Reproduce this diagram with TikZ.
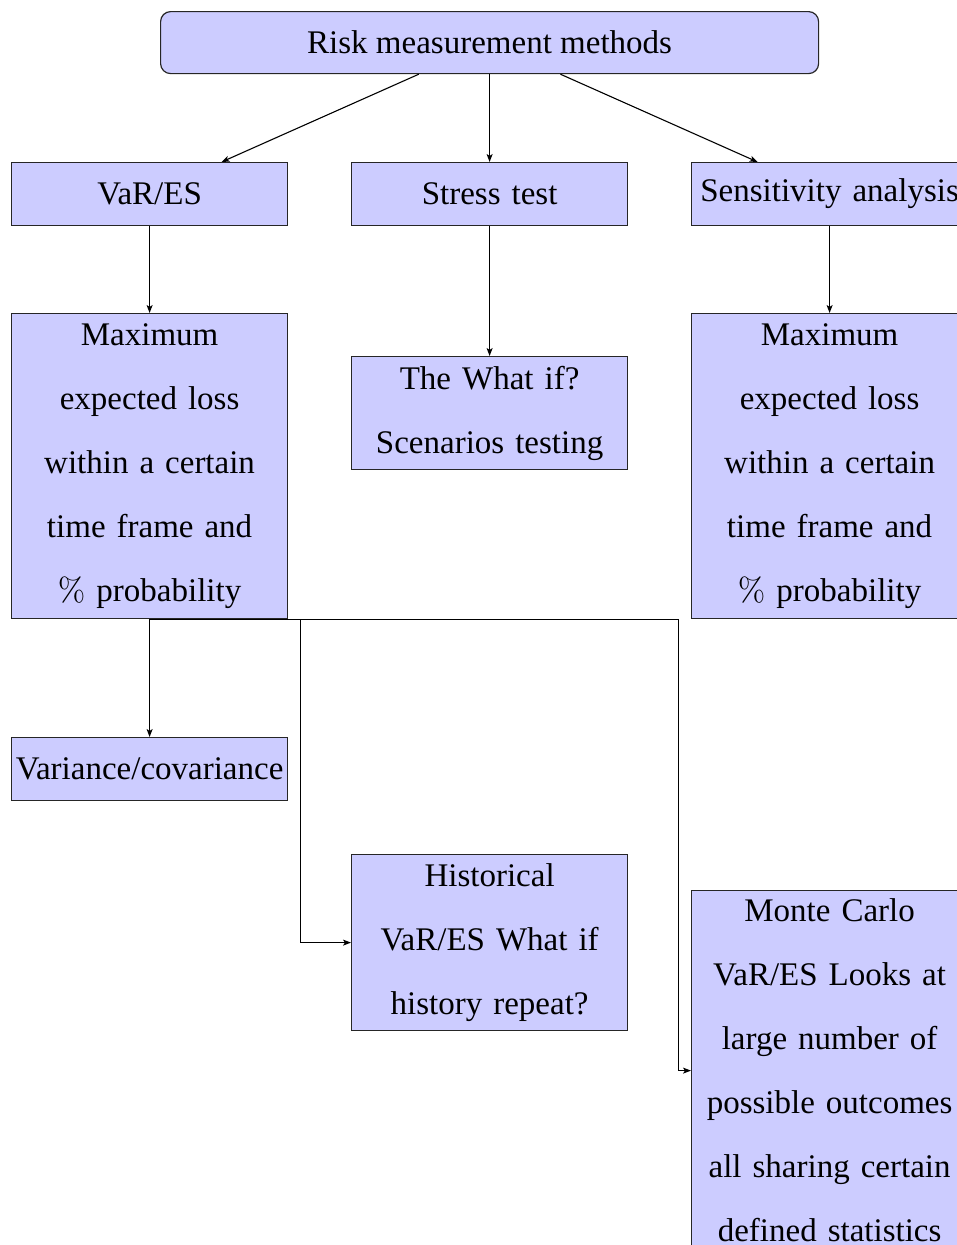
\documentclass[tikz,border=0pt]{standalone}
\usepackage{fontspec}
\setmainfont{Liberation Serif}
\newfontfamily\lmfont{lmroman10-regular.otf}
\newcommand{\pct}{{\lmfont\%}}
\usetikzlibrary{arrows.meta}
\definecolor{boxfill}{RGB}{204,204,255}
\begin{document}
\begin{tikzpicture}[x=1pt,y=-1pt,
  box/.style={draw=black!85, fill=boxfill, line width=1.2pt, inner sep=0pt,
    anchor=north west, text width=276pt, minimum width=276pt, align=center,
    font=\fontsize{33}{64}\selectfont},
  rootbox/.style={draw=black!85, fill=boxfill, line width=1.2pt, inner sep=0pt,
    anchor=north west, minimum width=658pt, minimum height=62pt, rounded corners=10pt,
    font=\fontsize{33}{64}\selectfont},
  arr/.style={line width=1.1pt, -{Stealth[length=8pt,width=6pt,inset=2pt]}}
]
\useasboundingbox (0,0) rectangle (957,1245);
\node[rootbox] (root) at (160,11) {Risk measurement methods};
\node[box, minimum height=63pt] (vares) at (11,162) {VaR/ES};
\node[box, minimum height=63pt] (stress) at (351,162) {Stress test};
\node[box, minimum height=63pt] (sens) at (691,162) {Sensitivity analysis};
\node[box, minimum height=305pt] (maxL) at (11,313) {Maximum\\expected loss\\within a certain\\time frame and\\\pct{} probability};
\node[box, minimum height=113pt] (whatif) at (351,356) {The What if?\\Scenarios testing};
\node[box, minimum height=305pt] (maxR) at (691,313) {Maximum\\expected loss\\within a certain\\time frame and\\\pct{} probability};
\node[box, minimum height=63pt] (var) at (11,737) {Variance/covariance};
\node[box, minimum height=176pt] (hist) at (351,854) {Historical\\VaR/ES What if\\history repeat?};
\node[box, minimum height=360pt] (mc) at (691,890) {Monte Carlo\\VaR/ES Looks at\\large number of\\possible outcomes\\all sharing certain\\defined statistics};
\draw[arr] (root) -- (vares);
\draw[arr] (root) -- (stress);
\draw[arr] (root) -- (sens);
\draw[arr] (vares) -- (maxL);
\draw[arr] (stress) -- (whatif);
\draw[arr] (sens) -- (maxR);
\draw[arr] (maxL) -- (var);
\draw[arr] ([yshift=-0.5pt]maxL.south) -- ++(151,0) |- (hist.west);
\draw[arr] ([yshift=-0.5pt]maxL.south) -- ++(529,0) |- (mc.west);
\end{tikzpicture}
\end{document}
